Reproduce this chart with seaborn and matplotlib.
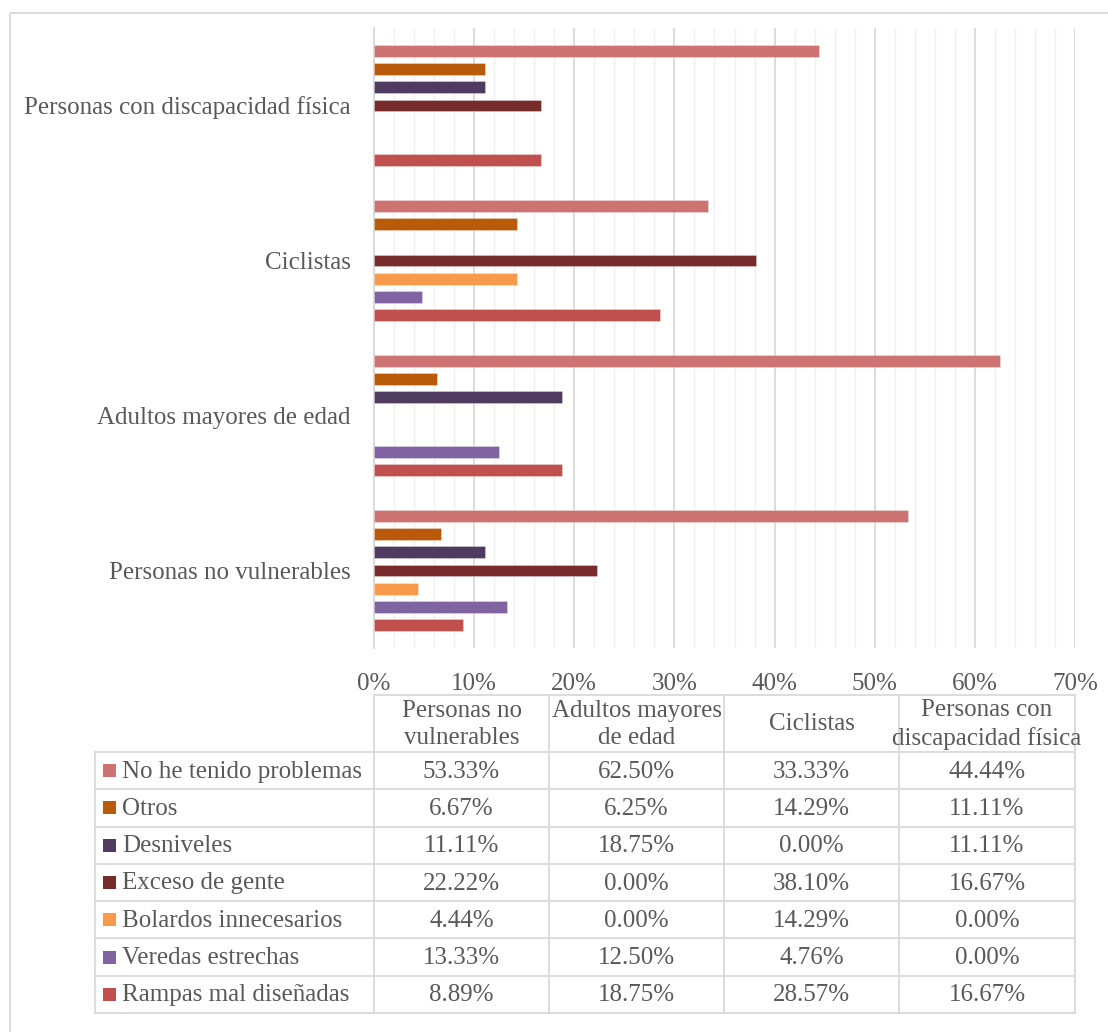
import matplotlib
matplotlib.use("Agg")
import matplotlib.pyplot as plt
from matplotlib.patches import Rectangle
from matplotlib.ticker import MultipleLocator, FixedLocator, PercentFormatter
import seaborn as sns
import pandas as pd

# ---- data ----
groups = ["Personas no vulnerables", "Adultos mayores de edad", "Ciclistas",
          "Personas con discapacidad física"]
group_headers = ["Personas no\nvulnerables", "Adultos mayores\nde edad", "Ciclistas",
                 "Personas con\ndiscapacidad física"]
problems = ["No he tenido problemas", "Otros", "Desniveles", "Exceso de gente",
            "Bolardos innecesarios", "Veredas estrechas", "Rampas mal diseñadas"]
colors = ["#CD7371", "#B85A0A", "#4F3B5F", "#772B2B", "#F79A4B", "#8064A2", "#C0504D"]

no_problemas = [53.33, 62.50, 33.33, 44.44]
otros = [6.67, 6.25, 14.29, 11.11]
desniveles = [11.11, 18.75, 0.00, 11.11]
exceso = [22.22, 0.00, 38.10, 16.67]
bolardos = [4.44, 0.00, 14.29, 0.00]
veredas = [13.33, 12.50, 4.76, 0.00]
rampas = [8.89, 18.75, 28.57, 16.67]
series = [no_problemas, otros, desniveles, exceso, bolardos, veredas, rampas]

rows = []
for p, vals in zip(problems, series):
    for g, v in zip(groups, vals):
        rows.append({"grupo": g, "problema": p, "valor": v / 100.0})
df = pd.DataFrame(rows)

# ---- style ----
sns.set_style("white")
plt.rcParams["font.family"] = ["Liberation Serif", "DejaVu Serif"]
TXT = "#595959"
GRID = "#D9D9D9"
FS = 18

W, H = 1108, 1032
fig = plt.figure(figsize=(W / 100, H / 100), dpi=100)
fig.patch.set_facecolor("white")

# overlay in pixel coordinates for border + table
ov = fig.add_axes([0, 0, 1, 1], zorder=0)
ov.set_xlim(0, W)
ov.set_ylim(H, 0)
ov.axis("off")

x0, x1, ytop, ybot = 374, 1075, 28, 648
ax = fig.add_axes([x0 / W, 1 - ybot / H, (x1 - x0) / W, (ybot - ytop) / H], zorder=1)
ax.patch.set_alpha(0)

order = groups[::-1]
sns.barplot(data=df, y="grupo", x="valor", hue="problema", order=order,
            hue_order=problems, palette=colors, orient="h", width=0.82,
            saturation=1, legend=False, ax=ax, errorbar=None)

frac = 12.0 / 18.2
for bar in ax.patches:
    h = bar.get_height()
    y = bar.get_y()
    nh = h * frac
    bar.set_y(y + (h - nh) / 2)
    bar.set_height(nh)
    bar.set_zorder(3)
    if bar.get_width() > 0:
        bar.set_edgecolor("#FFFFFF80")
        bar.set_linewidth(0.4)
    else:
        bar.set_edgecolor("none")
        bar.set_linewidth(0)

ax.set_xlim(0, 0.70)
ax.set_ylim(3.5, -0.5)
ax.xaxis.set_major_locator(MultipleLocator(0.10))
ax.xaxis.set_minor_locator(MultipleLocator(0.02))
ax.xaxis.set_major_formatter(PercentFormatter(1.0, decimals=0))
ax.grid(axis="x", which="major", color=GRID, lw=1.3, zorder=0)
ax.grid(axis="x", which="minor", color="#EFEFEF", lw=1.0, zorder=0)
ax.set_axisbelow(True)
ax.tick_params(axis="x", which="both", length=0, labelsize=FS, labelcolor=TXT, pad=18)
ax.yaxis.set_minor_locator(FixedLocator([-0.5, 0.5, 1.5, 2.5, 3.5]))
ax.tick_params(axis="y", which="major", length=0, labelsize=FS, labelcolor=TXT, pad=17)
ax.tick_params(axis="y", which="minor", length=6, color=GRID, width=1.3)
ax.set_xlabel("")
ax.set_ylabel("")
for s in ["top", "right", "bottom"]:
    ax.spines[s].set_visible(False)
ax.spines["left"].set_color(GRID)
ax.spines["left"].set_linewidth(1.3)

# outer chart border
ov.add_patch(Rectangle((9.5, 12.5), 1300, 1300, fill=False, edgecolor=GRID, lw=1.3))

# ---- data table ----
cols = [374, 549, 724, 899, 1075]
hdr_top, hdr_bot = 695, 752
row_h = (1013 - 752) / 7
row_edges = [hdr_bot + i * row_h for i in range(8)]
lab_left = 95
lc = "#D9D9D9"
lw = 1.3

ov.plot([cols[0], cols[-1]], [hdr_top, hdr_top], color=lc, lw=lw)
for cx in cols:
    ov.plot([cx, cx], [hdr_top, row_edges[-1]], color=lc, lw=lw)
ov.plot([lab_left, lab_left], [hdr_bot, row_edges[-1]], color=lc, lw=lw)
for ry in row_edges:
    ov.plot([lab_left, cols[-1]], [ry, ry], color=lc, lw=lw)

for i, htxt in enumerate(group_headers):
    cxm = (cols[i] + cols[i + 1]) / 2
    ov.text(cxm, (hdr_top + hdr_bot) / 2 + 1, htxt, ha="center", va="center",
            fontsize=FS, color=TXT, linespacing=1.3)

for r, (p, c, vals) in enumerate(zip(problems, colors, series)):
    cy = (row_edges[r] + row_edges[r + 1]) / 2
    ov.add_patch(Rectangle((103, cy - 6.5), 13, 13, facecolor=c, edgecolor="none"))
    ov.text(122, cy + 1, p, ha="left", va="center", fontsize=FS, color=TXT)
    for i, v in enumerate(vals):
        cxm = (cols[i] + cols[i + 1]) / 2
        ov.text(cxm, cy + 1, f"{v:.2f}%", ha="center", va="center",
                fontsize=FS, color=TXT)

fig.savefig("out.png", dpi=100, facecolor="white")
